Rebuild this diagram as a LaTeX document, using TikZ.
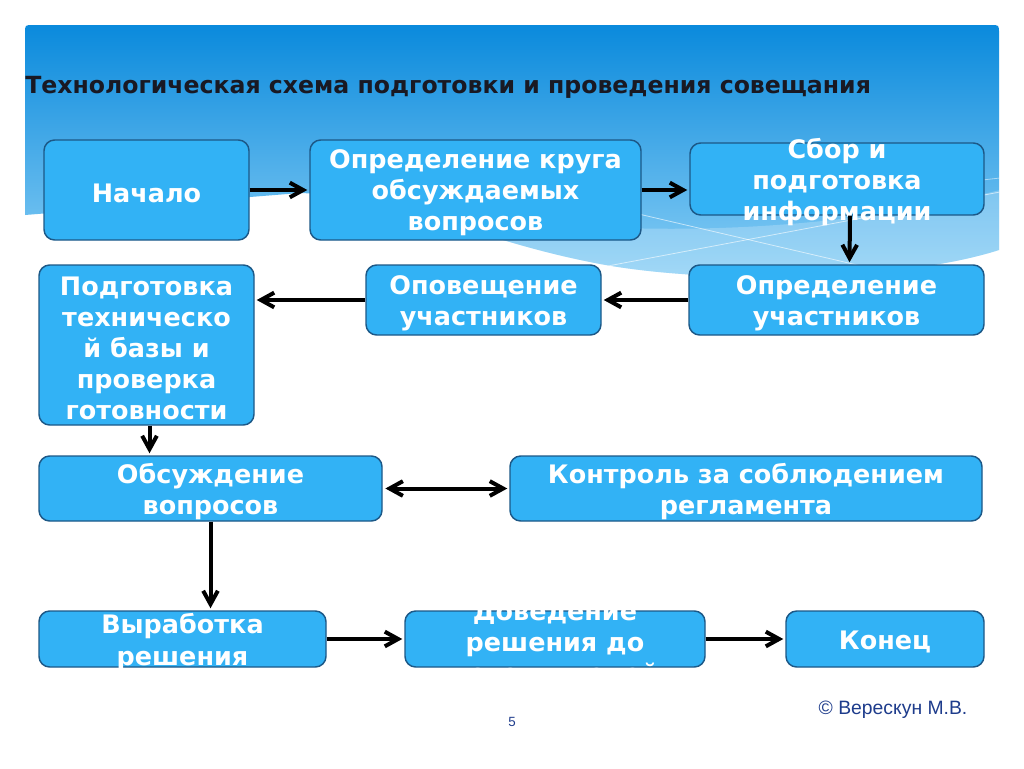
\documentclass[tikz,border=0pt]{standalone}
\usepackage{fontspec}
\setmainfont{DejaVu Sans}
\newfontfamily\lib{Liberation Sans}
\usetikzlibrary{arrows.meta,calc}
\definecolor{boxfill}{RGB}{50,178,245}
\definecolor{boxdraw}{RGB}{28,88,135}
\definecolor{hdrtop}{RGB}{10,138,220}
\definecolor{hdrbot}{RGB}{140,208,246}
\definecolor{titlecol}{RGB}{25,25,35}
\definecolor{authcol}{RGB}{30,60,140}
\begin{document}
\begin{tikzpicture}[x=0.75pt,y=-0.75pt,
  box/.style={draw=boxdraw, line width=1.1pt, fill=boxfill, rounded corners=8pt, inner sep=0pt},
  bx/.style 2 args={minimum width=#1*0.75pt, minimum height=#2*0.75pt},
  boxtext/.style={text=white, font=\bfseries\fontsize{19.1}{23.3}\selectfont, align=center, inner sep=0pt, yshift=-2.3pt},
  arr/.style={draw=black, line width=3pt, -{Straight Barb[length=10pt,width=11pt]}},
  darr/.style={draw=black, line width=3pt, {Straight Barb[length=10pt,width=11pt]}-{Straight Barb[length=10pt,width=11pt]}}]
\useasboundingbox (0,0) rectangle (1024,768);
\fill[white] (0,0) rectangle (1024,768);
% header background
\shade[top color=hdrtop, bottom color=hdrbot]
  (25,215) -- (25,33) .. controls (25,25) .. (33,25) -- (991,25) .. controls (999,25) .. (999,33)
  -- (999,250) .. controls (900,282) and (700,285) .. (590,262)
  .. controls (470,238) and (400,196) .. (300,193) -- cycle;
\begin{scope}
\clip (25,215) -- (25,33) .. controls (25,25) .. (33,25) -- (991,25) .. controls (999,25) .. (999,33)
  -- (999,250) .. controls (900,282) and (700,285) .. (590,262)
  .. controls (470,238) and (400,196) .. (300,193) -- cycle;
\fill[white, opacity=0.22] (380,200) .. controls (550,235) and (780,245) .. (1000,190) -- (1000,290) -- (380,290) -- cycle;
\draw[white, opacity=0.6, line width=0.6pt] (600,205) -- (900,275);
\draw[white, opacity=0.6, line width=0.6pt] (560,275) -- (1000,192);
\draw[white, opacity=0.5, line width=0.6pt] (700,212) -- (1000,178);
\end{scope}
% title
\node[anchor=west, inner sep=0pt, text=titlecol, font=\bfseries\fontsize{17.7}{21}\selectfont] (title) at (25,87)
  {Технологическая схема подготовки и проведения совещания};
% boxes
\node[box, bx={205}{100}] (b1) at (146.5,190) {};
\node[box, bx={331}{100}] (b2) at (475.5,190) {};
\node[box, bx={294}{72}] (b3) at (837,179) {};
\node[box, bx={295}{70}] (b4) at (836.5,300) {};
\node[box, bx={235}{70}] (b5) at (483.5,300) {};
\node[box, bx={215}{160}] (b6) at (146.5,345) {};
\node[box, bx={343}{65}] (b7) at (210.5,488.5) {};
\node[box, bx={472}{65}] (b8) at (746,488.5) {};
\node[box, bx={287}{56}] (b9) at (182.5,639) {};
\node[box, bx={300}{56}] (b10) at (555,639) {};
\node[box, bx={198}{56}] (b11) at (885,639) {};
% texts
\node[boxtext] (t1) at (b1) {Начало};
\node[boxtext] (t2) at (b2) {Определение круга\\обсуждаемых\\вопросов};
\node[boxtext] (t3) at (b3) {Сбор и\\подготовка\\информации};
\node[boxtext] (t4) at (b4) {Определение\\участников};
\node[boxtext] (t5) at (b5) {Оповещение\\участников};
\node[boxtext] (t6) at (b6) {Подготовка\\техническо\\й базы и\\проверка\\готовности};
\node[boxtext] (t7) at (b7) {Обсуждение\\вопросов};
\node[boxtext] (t8) at (b8) {Контроль за соблюдением\\регламента};
\node[boxtext] (t9) at (b9) {Выработка\\решения};
\node[boxtext] (t10) at (b10) {Доведение\\решения до\\исполнителей};
\node[boxtext] (t11) at (b11) {Конец};
% arrows
\draw[arr, shorten >=1.5pt] (b1.east) -- (b2.west);
\draw[arr, shorten >=1.5pt] (b2.east) -- (b2.east -| b3.west);
\draw[arr, shorten >=1.5pt] ($(b3.south)+(13,0)$) -- ($(b4.north)+(13,0)$);
\draw[arr, shorten >=1.5pt] (b4.west) -- (b5.east);
\draw[arr, shorten >=1.5pt] (b5.west) -- (b5.west -| b6.east);
\draw[arr, shorten >=1.5pt] ($(b6.south)+(3,0)$) -- ($(b6.south |- b7.north)+(3,0)$);
\draw[darr, shorten >=1.5pt, shorten <=2pt] (b7.east) -- (b8.west);
\draw[arr, shorten >=1.5pt] (b7.south) -- (b7.south |- b9.north);
\draw[arr, shorten >=1.5pt] (b9.east) -- (b10.west);
\draw[arr, shorten >=1.5pt] (b10.east) -- (b11.west);
% footer
\node[font=\lib\fontsize{14.5}{17}\selectfont, text=authcol] (auth) at (893,710) {© Верескун М.В.};
\node[font=\lib\fontsize{10}{12}\selectfont, text=authcol] (pg) at (512,722) {5};
\end{tikzpicture}
\end{document}
